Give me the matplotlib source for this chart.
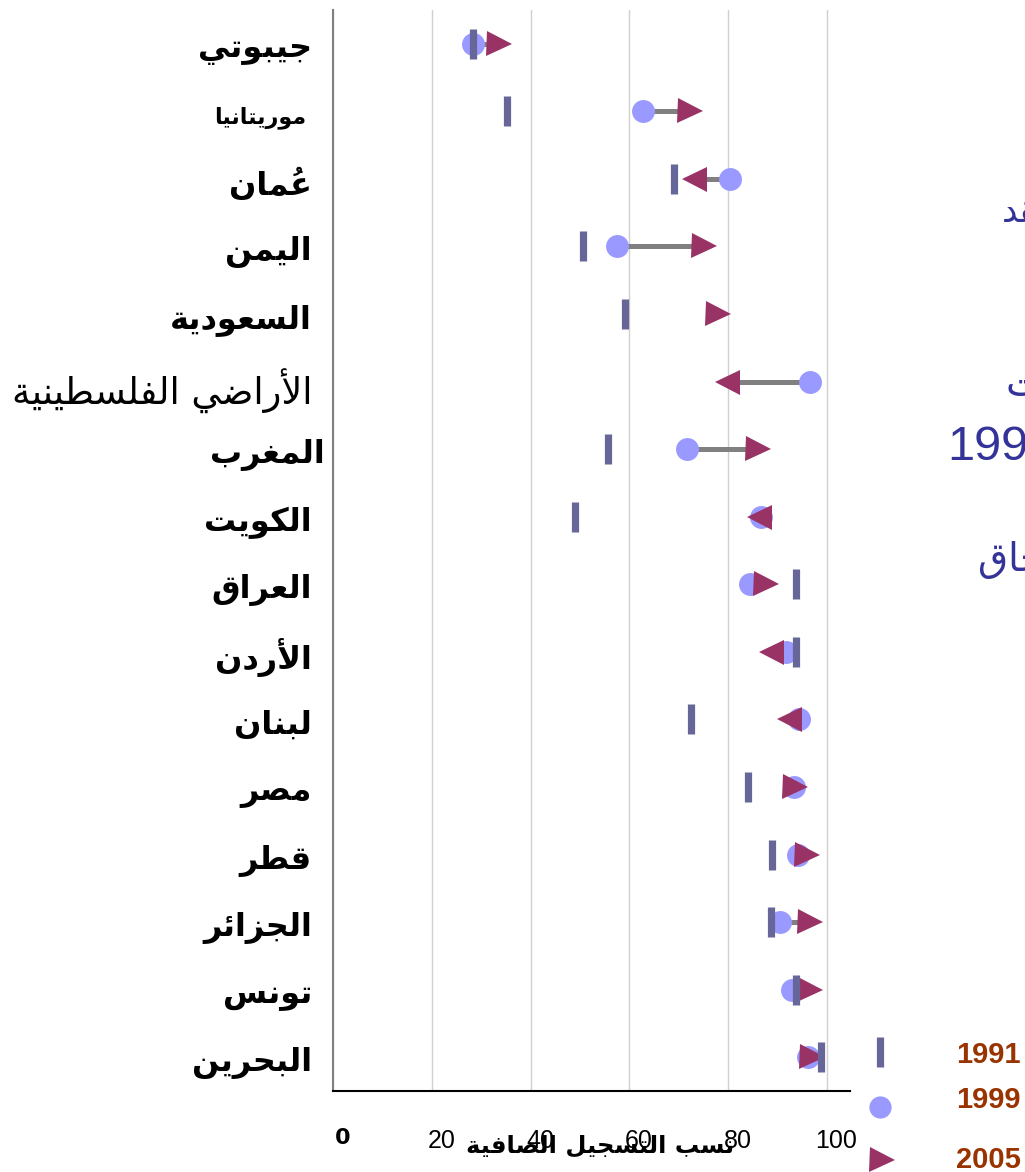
import numpy as np
import matplotlib
matplotlib.use('Agg')
import matplotlib.pyplot as plt
from matplotlib.lines import Line2D
from matplotlib.transforms import ScaledTranslation

# country order, top to bottom
countries = ['جيبوتي', 'موريتانيا', 'عُمان', 'اليمن', 'السعودية', 'الأراضي الفلسطينية',
             'المغرب', 'الكويت', 'العراق', 'الأردن', 'لبنان', 'مصر', 'قطر',
             'الجزائر', 'تونس', 'البحرين']
nan = np.nan
v1991 = [28.4, 35.3, 69.1, 50.6, 59.2, nan, 55.7, 49.0, 93.8, 93.8, 72.6, 84.0, 89.0, 88.7, 93.8, 98.9]
v1999 = [28.4, 62.7, 80.3, 57.6, nan, 96.6, 71.7, 86.6, 84.4, 91.8, 94.3, 93.3, 94.1, 90.6, 93.0, 96.2]
v2005 = [33.6, 72.3, 73.2, 75.2, 77.9, 79.8, 86.1, 86.3, 87.7, 88.8, 92.3, 93.5, 95.9, 96.6, 96.7, 97.1]
years = ['1991', '1999', '2005']
xticks = [0, 20, 40, 60, 80, 100]
xlabel = 'نسب التسجيل الصافية'
side_notes = ['لقد', 'تحققت', '1999', 'الالتحاق']   # clipped text box at the right edge

# matplotlib has no arabic shaping, so map letters to presentation forms by hand
AR_FORMS = {
    'ء': (0xFE80, 1), 'آ': (0xFE81, 2), 'أ': (0xFE83, 2), 'ؤ': (0xFE85, 2),
    'إ': (0xFE87, 2), 'ئ': (0xFE89, 4), 'ا': (0xFE8D, 2), 'ب': (0xFE8F, 4),
    'ة': (0xFE93, 2), 'ت': (0xFE95, 4), 'ث': (0xFE99, 4), 'ج': (0xFE9D, 4),
    'ح': (0xFEA1, 4), 'خ': (0xFEA5, 4), 'د': (0xFEA9, 2), 'ذ': (0xFEAB, 2),
    'ر': (0xFEAD, 2), 'ز': (0xFEAF, 2), 'س': (0xFEB1, 4), 'ش': (0xFEB5, 4),
    'ص': (0xFEB9, 4), 'ض': (0xFEBD, 4), 'ط': (0xFEC1, 4), 'ظ': (0xFEC5, 4),
    'ع': (0xFEC9, 4), 'غ': (0xFECD, 4), 'ف': (0xFED1, 4), 'ق': (0xFED5, 4),
    'ك': (0xFED9, 4), 'ل': (0xFEDD, 4), 'م': (0xFEE1, 4), 'ن': (0xFEE5, 4),
    'ه': (0xFEE9, 4), 'و': (0xFEED, 2), 'ى': (0xFEEF, 2), 'ي': (0xFEF1, 4),
}
LAM_ALEF = {'آ': 0xFEF5, 'أ': 0xFEF7, 'إ': 0xFEF9, 'ا': 0xFEFB}


def nforms(u):
    if len(u) == 2:     # lam-alef ligature
        return 2
    return AR_FORMS.get(u, (0, 0))[1]


def shape(text):
    if text.isdigit():
        return text
    units = []
    for ch in text:
        if '\u064B' <= ch <= '\u0652' and units:
            units[-1][1] += ch
        elif ch in LAM_ALEF and units and units[-1][0] == 'ل':
            units[-1][0] = 'ل' + ch
        else:
            units.append([ch, ''])
    out = []
    for i, (u, marks) in enumerate(units):
        n = nforms(u)
        if n == 0:
            out.append(u + marks)
            continue
        base = LAM_ALEF[u[1]] if len(u) == 2 else AR_FORMS[u][0]
        prev_j = i > 0 and nforms(units[i - 1][0]) == 4
        next_j = n == 4 and i + 1 < len(units) and nforms(units[i + 1][0]) > 0
        if n == 1:
            code = base
        elif prev_j and next_j:
            code = base + 3
        elif prev_j:
            code = base + 1
        elif next_j:
            code = base + 2
        else:
            code = base
        # zero-width mark first so it lands on top of its letter
        out.append(marks + chr(code))
    return ''.join(reversed(out))


c_bar = '#666699'
c_dot = '#9999ff'
c_tri = '#993366'
c_line = '#808080'

fig = plt.figure(figsize=(10.25, 11.72), dpi=100)
ax = fig.add_axes([333 / 1025, 1 - 1091 / 1172, 517 / 1025, 1081 / 1172])

rows = np.arange(len(countries))
a91 = np.array(v1991)
a99 = np.array(v1999)
a05 = np.array(v2005)

# grey connector 1999 -> 2005
ax.hlines(rows, a99, a05, color=c_line, lw=3.6, zorder=2)
ax.plot(a99, rows, ls='none', marker='o', ms=16.5, color=c_dot, mew=0, zorder=3)
up = ~(a05 < a99)
ax.plot(a05[up], rows[up], ls='none', marker='>', ms=18, color=c_tri, mew=0, zorder=4)
ax.plot(a05[~up], rows[~up], ls='none', marker='<', ms=18, color=c_tri, mew=0, zorder=4)
ax.plot(a91, rows, ls='none', marker='|', ms=21, mew=5.2, color=c_bar, zorder=5)

ax.set_xlim(0, 104.7)
ax.set_ylim(len(countries) - 0.5, -0.5)
ax.set_xticks(xticks)
ax.set_xticklabels([str(t) for t in xticks], fontsize=18, family='Liberation Sans')
ax.tick_params(axis='x', length=0, pad=27)
ax.set_yticks([])
ax.grid(axis='x', color='#d0d0d0', lw=1)
ax.set_axisbelow(True)
off = ScaledTranslation(0.095, 0, fig.dpi_scale_trans)
for i, lab in enumerate(ax.get_xticklabels()):
    lab.set_transform(lab.get_transform() + off)
    if i == 0:
        lab.set_fontweight('bold')
        lab.set_family('DejaVu Sans')
        lab.set_fontsize(16)

for s in ['top', 'right']:
    ax.spines[s].set_visible(False)
ax.spines['left'].set_color('#808080')
ax.spines['left'].set_linewidth(1.5)
ax.spines['bottom'].set_color('black')
ax.spines['bottom'].set_linewidth(1.5)

# country labels
for i, name in enumerate(countries):
    size, weight, dx, dy = 23, 'bold', -21, 6
    if name == 'موريتانيا':
        size = 16
        dx = -27
    if name == 'الأراضي الفلسطينية':
        size, weight, dy = 26.5, 'normal', 10
    if name == 'المغرب':
        dx = -8
    ax.annotate(shape(name), xy=(0, i), xycoords=('axes fraction', 'data'),
                xytext=(dx * 0.72, -dy * 0.72), textcoords='offset points',
                ha='right', va='center', fontsize=size, fontweight=weight,
                family='DejaVu Sans')

ax.set_xlabel(shape(xlabel), fontsize=17.5, fontweight='bold', family='DejaVu Sans')
ax.xaxis.set_label_coords((600 - 333) / 517, -(1146 - 1091) / 1081)
ax.xaxis.label.set_va('center')

# legend, drawn by hand at the bottom right
leg_x = 880 / 1025
fig.add_artist(Line2D([leg_x], [1 - 1052 / 1172], transform=fig.transFigure, ls='none',
                      marker='|', ms=22, mew=5.2, color=c_bar))
fig.add_artist(Line2D([leg_x], [1 - 1107 / 1172], transform=fig.transFigure, ls='none',
                      marker='o', ms=16, mew=0, color=c_dot))
fig.add_artist(Line2D([882 / 1025], [1 - 1160 / 1172], transform=fig.transFigure, ls='none',
                      marker='>', ms=18, mew=0, color=c_tri))
for yr, yp in zip(years, [1055, 1100, 1160]):
    fig.text(988 / 1025, 1 - yp / 1172, yr, ha='center', va='center', fontsize=21,
             fontweight='bold', color='#993300', family='Liberation Sans')

# text box on the right, cut by the page edge
note_pos = [(1002, 212, 25), (1005, 385, 28), (947, 447, 35), (978, 560, 28)]
for txt, (xp, yp, fs) in zip(side_notes, note_pos):
    fam = 'Liberation Sans' if txt.isdigit() else 'DejaVu Sans'
    fig.text(xp / 1025, 1 - yp / 1172, shape(txt), ha='left', va='center',
             fontsize=fs, color='#333399', family=fam)

fig.savefig('out.png', dpi=100)
